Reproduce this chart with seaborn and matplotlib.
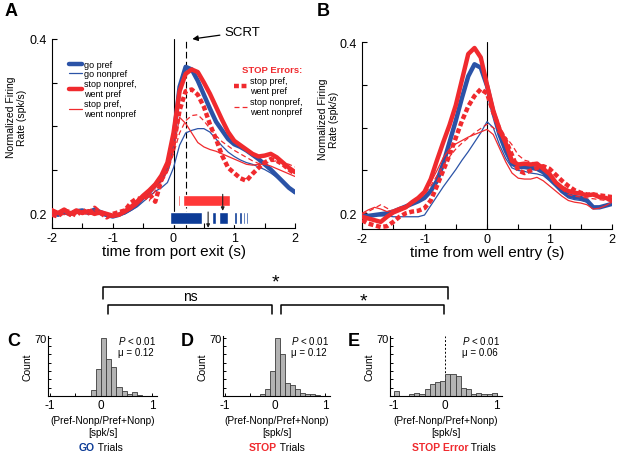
#!/usr/bin/env python3
"""Population firing around port exit / well entry, plus selectivity histograms."""

import matplotlib

matplotlib.use("Agg")

import matplotlib.pyplot as plt
import numpy as np
import pandas as pd
import seaborn as sns
from matplotlib.lines import Line2D
from matplotlib.offsetbox import AnnotationBbox, HPacker, TextArea

FIG_W, FIG_H = 640, 456

# sample times of every firing-rate trace (s)
time_s = np.round(np.linspace(-2.0, 2.0, 41), 2)

# --- panel A: aligned on port exit ---
a_go_pref = [0.200, 0.198, 0.201, 0.199, 0.202, 0.203, 0.200, 0.204, 0.201, 0.198,
             0.196, 0.198, 0.201, 0.205, 0.210, 0.218, 0.224, 0.232, 0.240, 0.252,
             0.285, 0.345, 0.368, 0.365, 0.352, 0.336, 0.320, 0.305, 0.295, 0.285,
             0.279, 0.276, 0.272, 0.267, 0.262, 0.256, 0.250, 0.243, 0.236, 0.229, 0.224]
a_go_nonpref = [0.197, 0.199, 0.200, 0.198, 0.200, 0.201, 0.199, 0.200, 0.198, 0.196,
                0.195, 0.197, 0.199, 0.203, 0.207, 0.213, 0.219, 0.225, 0.229, 0.235,
                0.252, 0.278, 0.292, 0.295, 0.297, 0.297, 0.293, 0.285, 0.277, 0.270,
                0.265, 0.261, 0.258, 0.256, 0.253, 0.250, 0.246, 0.241, 0.235, 0.228, 0.222]
a_stop_np_wp = [0.203, 0.200, 0.204, 0.199, 0.203, 0.200, 0.202, 0.199, 0.201, 0.199,
                0.197, 0.198, 0.202, 0.207, 0.213, 0.220, 0.226, 0.233, 0.243, 0.258,
                0.292, 0.340, 0.360, 0.365, 0.362, 0.350, 0.337, 0.322, 0.307, 0.293,
                0.283, 0.278, 0.273, 0.268, 0.265, 0.266, 0.268, 0.264, 0.258, 0.252, 0.247]
a_stop_p_wnp = [0.205, 0.201, 0.198, 0.202, 0.199, 0.203, 0.198, 0.200, 0.202, 0.197,
                0.195, 0.197, 0.200, 0.204, 0.209, 0.216, 0.222, 0.229, 0.236, 0.248,
                0.272, 0.310, 0.303, 0.292, 0.281, 0.276, 0.273, 0.271, 0.268, 0.265,
                0.262, 0.259, 0.256, 0.255, 0.256, 0.256, 0.254, 0.251, 0.248, 0.245, 0.242]
a_err_p_wp = [0.198, 0.196, 0.203, 0.201, 0.197, 0.204, 0.199, 0.206, 0.200, 0.195,
              0.199, 0.201, 0.203, 0.212, 0.217, 0.215, 0.222, 0.213, 0.238, 0.255,
              0.278, 0.318, 0.340, 0.342, 0.336, 0.322, 0.302, 0.285, 0.266, 0.252,
              0.246, 0.240, 0.237, 0.245, 0.252, 0.258, 0.262, 0.260, 0.256, 0.250, 0.245]
a_err_np_wnp = [0.199, 0.203, 0.200, 0.196, 0.201, 0.199, 0.204, 0.201, 0.197, 0.200,
                0.198, 0.196, 0.201, 0.206, 0.211, 0.219, 0.214, 0.226, 0.234, 0.247,
                0.268, 0.292, 0.306, 0.312, 0.313, 0.306, 0.297, 0.289, 0.282, 0.277,
                0.272, 0.268, 0.264, 0.260, 0.257, 0.257, 0.259, 0.260, 0.258, 0.256, 0.253]

# significance periods (s) and median markers under panel A
red_sig_spans = [(0.08, 0.10), (0.15, 0.93)]
blue_sig_spans = [(-0.05, 0.47), (0.63, 0.70), (0.75, 0.90), (1.00, 1.04),
                  (1.08, 1.12), (1.15, 1.17), (1.19, 1.22)]
red_marker_t = 0.81
blue_marker_t = 0.57
scrt_t = 0.2

# --- panel B: aligned on well entry ---
b_go_pref = [0.197, 0.197, 0.198, 0.199, 0.200, 0.202, 0.205, 0.208, 0.211, 0.214,
             0.218, 0.226, 0.238, 0.258, 0.283, 0.308, 0.335, 0.360, 0.374, 0.370,
             0.349, 0.318, 0.292, 0.273, 0.258, 0.254, 0.254, 0.253, 0.252, 0.248,
             0.241, 0.234, 0.226, 0.221, 0.219, 0.218, 0.215, 0.207, 0.207, 0.209, 0.211]
b_go_nonpref = [0.198, 0.198, 0.198, 0.197, 0.197, 0.196, 0.196, 0.196, 0.196, 0.196,
                0.198, 0.209, 0.220, 0.231, 0.241, 0.251, 0.262, 0.272, 0.283, 0.294,
                0.307, 0.300, 0.280, 0.264, 0.253, 0.250, 0.249, 0.247, 0.246, 0.244,
                0.238, 0.231, 0.224, 0.218, 0.216, 0.215, 0.213, 0.207, 0.208, 0.210, 0.212]
b_stop_np_wp = [0.196, 0.194, 0.192, 0.190, 0.196, 0.201, 0.204, 0.207, 0.213, 0.218,
                0.225, 0.240, 0.262, 0.283, 0.303, 0.326, 0.356, 0.386, 0.393, 0.382,
                0.350, 0.320, 0.298, 0.282, 0.261, 0.257, 0.258, 0.257, 0.258, 0.252,
                0.246, 0.236, 0.230, 0.226, 0.224, 0.223, 0.221, 0.222, 0.219, 0.218, 0.215]
b_stop_p_wnp = [0.200, 0.204, 0.207, 0.205, 0.202, 0.204, 0.207, 0.209, 0.213, 0.218,
                0.225, 0.236, 0.250, 0.265, 0.275, 0.281, 0.285, 0.289, 0.292, 0.295,
                0.298, 0.292, 0.276, 0.260, 0.247, 0.241, 0.240, 0.240, 0.242, 0.238,
                0.232, 0.226, 0.220, 0.215, 0.213, 0.212, 0.210, 0.205, 0.206, 0.209, 0.213]
b_err_p_wp = [0.192, 0.188, 0.186, 0.184, 0.185, 0.190, 0.196, 0.200, 0.202, 0.203,
              0.206, 0.215, 0.232, 0.250, 0.268, 0.288, 0.308, 0.325, 0.337, 0.345,
              0.340, 0.318, 0.298, 0.285, 0.268, 0.250, 0.247, 0.250, 0.253, 0.255,
              0.252, 0.245, 0.238, 0.232, 0.227, 0.224, 0.222, 0.222, 0.221, 0.220, 0.219]
b_err_np_wnp = [0.199, 0.202, 0.206, 0.210, 0.206, 0.202, 0.205, 0.208, 0.211, 0.216,
                0.222, 0.232, 0.244, 0.256, 0.266, 0.275, 0.282, 0.288, 0.294, 0.299,
                0.304, 0.300, 0.293, 0.289, 0.280, 0.268, 0.262, 0.260, 0.258, 0.255,
                0.245, 0.236, 0.228, 0.222, 0.220, 0.219, 0.218, 0.217, 0.216, 0.215, 0.214]

# --- panels C-E: selectivity index histograms (bin centres, counts) ---
hist_edges = [round(-1.0 + 0.1 * i, 2) for i in range(21)]
go_centers = [-0.15, -0.05, 0.05, 0.15, 0.25, 0.35, 0.45, 0.55, 0.65, 0.75]
go_counts = [7, 33, 70, 45, 35, 11, 6, 2, 5, 1]
stop_centers = [-0.25, -0.15, -0.05, 0.05, 0.15, 0.25, 0.35, 0.45, 0.55, 0.65, 0.75, 0.85]
stop_counts = [3, 8, 30, 70, 51, 16, 13, 9, 4, 3, 3, 1]
err_centers = [-0.95, -0.65, -0.55, -0.45, -0.35, -0.25, -0.15, -0.05, 0.05, 0.15,
               0.25, 0.35, 0.45, 0.55, 0.65, 0.75, 0.85, 0.95]
err_counts = [6, 2, 4, 3, 9, 15, 17, 18, 26, 26, 24, 10, 8, 3, 4, 2, 3, 4]

BLUE = "#2b53a7"
RED = "#f02a2e"
BAR_BLUE = "#0c3b96"
BAR_RED = "#ff3838"
GRAY = "#b3b3b3"

THICK, THIN = 3.2, 0.9
THICK_DASH = (0, (1.1, 0.6))
THIN_DASH = (0, (4, 2.5))


def px_axes(fig, left, top, right, bottom):
    return fig.add_axes([left / FIG_W, 1 - bottom / FIG_H,
                         (right - left) / FIG_W, (bottom - top) / FIG_H])


def fx(px):
    return px / FIG_W


def fy(py):
    return 1 - py / FIG_H


def draw_traces(ax, traces):
    handles = []
    for vals, color, lw, ls in traces:
        sns.lineplot(x=time_s, y=vals, ax=ax, color=color, lw=lw, linestyle=ls,
                     legend=False, zorder=3)
        handles.append(ax.lines[-1])
    return handles


def style_psth(ax, xlabel, ylim, ylabel_x):
    ax.set_xlim(-2, 2)
    ax.set_ylim(*ylim)
    ax.set_xticks([-2, -1, 0, 1, 2])
    ax.set_xticklabels(["-2", "-1", "0", "1", "2"])
    ax.set_xticks([-1.5, -0.5, 0.5, 1.5], minor=True)
    ax.set_yticks([0.2, 0.4])
    ax.set_yticklabels(["0.2", "0.4"])
    ax.set_yticks([0.25, 0.3, 0.35], minor=True)
    ax.tick_params(which="both", direction="in", length=3.5, width=0.8, labelsize=9)
    ax.tick_params(axis="x", pad=3)
    ax.set_xlabel(xlabel, fontsize=11, labelpad=0)
    ax.set_ylabel("Normalized Firing\nRate (spk/s)", fontsize=7.5, linespacing=1.15)
    ax.yaxis.set_label_coords(ylabel_x, 0.59)
    sns.despine(ax=ax)
    ax.axvline(0, color="black", lw=0.8, zorder=2)


def draw_hist(ax, centers, counts):
    df = pd.DataFrame({"index": centers, "count": counts})
    sns.histplot(data=df, x="index", weights="count", bins=hist_edges, ax=ax, color=GRAY,
                 edgecolor="#3c3c3c", linewidth=0.6, alpha=1)
    ax.set_xlim(-1.03, 1.09)
    ax.set_ylim(0, 72)
    ax.set_xticks([-1, 0, 1])
    ax.set_xticklabels(["-1", "0", "1"])
    ax.set_xticks([-0.5, 0.5], minor=True)
    ax.set_yticks([70])
    ax.set_yticks(list(range(0, 70, 10)), minor=True)
    ax.tick_params(which="both", direction="in", length=2.5, width=0.7)
    ax.tick_params(axis="x", labelsize=8.5, pad=2)
    ax.tick_params(axis="y", labelsize=8, pad=1)
    ax.set_ylabel("Count", fontsize=7.5, labelpad=1)
    ax.set_xlabel("(Pref-Nonp/Pref+Nonp)\n[spk/s]", fontsize=7.3, labelpad=3, linespacing=1.3)
    sns.despine(ax=ax)


def hist_stats(ax, mu):
    ax.text(0.64, 0.93, "$P$ < 0.01", transform=ax.transAxes, fontsize=7, va="center")
    ax.text(0.64, 0.73, "\u03bc = " + mu, transform=ax.transAxes, fontsize=7, va="center")


def trial_caption(fig, cx, parts):
    boxes = [TextArea(txt, textprops=dict(color=col, fontsize=7.5, fontweight=w))
             for txt, col, w in parts]
    pack = HPacker(children=boxes, align="baseline", pad=0, sep=0)
    fig.add_artist(AnnotationBbox(pack, (fx(cx), fy(448)), xycoords="figure fraction",
                                  frameon=False, box_alignment=(0.5, 0.5), pad=0))


def bracket(fig, x0, x1, ytop, ybot):
    fig.add_artist(Line2D([fx(x0), fx(x0), fx(x1), fx(x1)],
                          [fy(ybot), fy(ytop), fy(ytop), fy(ybot)],
                          transform=fig.transFigure, color="black", lw=1.1))


def main():
    sns.set_style("ticks")
    plt.rcParams.update({
        "font.family": ["Liberation Sans", "DejaVu Sans"],
        "mathtext.fontset": "custom",
        "mathtext.it": "Liberation Sans:italic",
        "mathtext.rm": "Liberation Sans",
        "axes.edgecolor": "black",
        "axes.linewidth": 0.8,
        "xtick.color": "black",
        "ytick.color": "black",
        "text.color": "black",
        "axes.labelcolor": "black",
    })

    fig = plt.figure(figsize=(FIG_W / 100, FIG_H / 100), dpi=100)

    # ---- A ----
    ax_a = px_axes(fig, 52, 40, 295, 229)
    h = draw_traces(ax_a, [
        (a_go_pref, BLUE, THICK, "-"),
        (a_go_nonpref, BLUE, THIN, "-"),
        (a_stop_np_wp, RED, THICK, "-"),
        (a_stop_p_wnp, RED, THIN, "-"),
        (a_err_p_wp, RED, THICK, THICK_DASH),
        (a_err_np_wnp, RED, THIN, THIN_DASH),
    ])
    style_psth(ax_a, "time from port exit (s)", (0.1828, 0.4), -0.103)
    ax_a.axvline(scrt_t, color="black", lw=0.8, ls=(0, (6, 3)), zorder=2)

    ax_a.broken_barh([(s, e - s) for s, e in red_sig_spans], (0.2085, 0.0125),
                     facecolors=BAR_RED, zorder=4)
    ax_a.broken_barh([(s, e - s) for s, e in blue_sig_spans], (0.1875, 0.0135),
                     facecolors=BAR_BLUE, zorder=4)
    arrow = dict(arrowstyle="-|>", color="#202020", lw=0.8, mutation_scale=5,
                 shrinkA=0, shrinkB=0)
    ax_a.annotate("", xy=(red_marker_t, 0.2025), xytext=(red_marker_t, 0.2215),
                  arrowprops=arrow, zorder=5)
    ax_a.annotate("", xy=(blue_marker_t, 0.1830), xytext=(blue_marker_t, 0.2012),
                  arrowprops=arrow, zorder=5, annotation_clip=False)
    ax_a.annotate("SCRT", xy=(0.31, 0.4), xytext=(0.84, 0.408), fontsize=9.5,
                  va="center", ha="left", annotation_clip=False,
                  arrowprops=dict(arrowstyle="-|>", color="black", lw=0.9,
                                  mutation_scale=8, shrinkA=1, shrinkB=0))

    leg1 = ax_a.legend(h[:4], ["go pref", "go nonpref", "stop nonpref,\nwent pref",
                               "stop pref,\nwent nonpref"],
                       loc="upper left", bbox_to_anchor=(0.07, 0.89), frameon=False,
                       fontsize=6.5, handlelength=1.4, handletextpad=0.3,
                       labelspacing=0.05, borderpad=0, borderaxespad=0)
    ax_a.add_artist(leg1)
    leg2 = ax_a.legend(h[4:], ["stop pref,\nwent pref", "stop nonpref,\nwent nonpref"],
                       title="STOP Errors:", loc="upper right", bbox_to_anchor=(1.03, 0.86),
                       frameon=False, fontsize=6.5, handlelength=1.4, handletextpad=0.3,
                       labelspacing=0.15, borderpad=0, borderaxespad=0, alignment="right",
                       title_fontproperties={"size": 6.8, "weight": "bold"})
    leg2.get_title().set_color(RED)

    # ---- B ----
    ax_b = px_axes(fig, 362, 43, 612, 230)
    draw_traces(ax_b, [
        (b_go_pref, BLUE, THICK, "-"),
        (b_go_nonpref, BLUE, THIN, "-"),
        (b_stop_np_wp, RED, THICK, "-"),
        (b_stop_p_wnp, RED, THIN, "-"),
        (b_err_p_wp, RED, THICK, THICK_DASH),
        (b_err_np_wnp, RED, THIN, THIN_DASH),
    ])
    style_psth(ax_b, "time from well entry (s)", (0.1817, 0.4), -0.092)

    # ---- C, D, E ----
    ax_c = px_axes(fig, 48, 337, 157, 397)
    draw_hist(ax_c, go_centers, go_counts)
    hist_stats(ax_c, "0.12")

    ax_d = px_axes(fig, 223, 337, 330, 397)
    draw_hist(ax_d, stop_centers, stop_counts)
    hist_stats(ax_d, "0.12")

    ax_e = px_axes(fig, 390, 337, 502, 397)
    draw_hist(ax_e, err_centers, err_counts)
    ax_e.set_xlim(-1.07, 1.1)
    ax_e.axvline(0, color="black", lw=0.7, ls=(0, (2, 2)), zorder=0)
    hist_stats(ax_e, "0.06")

    trial_caption(fig, 101, [("GO", BAR_BLUE, "bold"), (" Trials", "black", "normal")])
    trial_caption(fig, 277, [("STOP", RED, "bold"), (" Trials", "black", "normal")])
    trial_caption(fig, 454, [("STOP Error", RED, "bold"), (" Trials", "black", "normal")])

    # comparison brackets between histograms
    bracket(fig, 103, 448, 288, 300)
    bracket(fig, 108, 272, 306, 315)
    bracket(fig, 281, 444, 306, 315)
    fig.text(fx(275), fy(283), "*", fontsize=14, ha="center", va="center")
    fig.text(fx(190), fy(297), "ns", fontsize=10, ha="center", va="center")
    fig.text(fx(363), fy(302), "*", fontsize=14, ha="center", va="center")

    # panel letters
    for letter, x, y in [("A", 5, 11), ("B", 317, 11), ("C", 7, 342),
                         ("D", 181, 342), ("E", 348, 342)]:
        fig.text(fx(x), fy(y), letter, fontsize=13, fontweight="bold", va="center")

    fig.savefig("out.png", dpi=100)
    plt.close(fig)


if __name__ == "__main__":
    main()
